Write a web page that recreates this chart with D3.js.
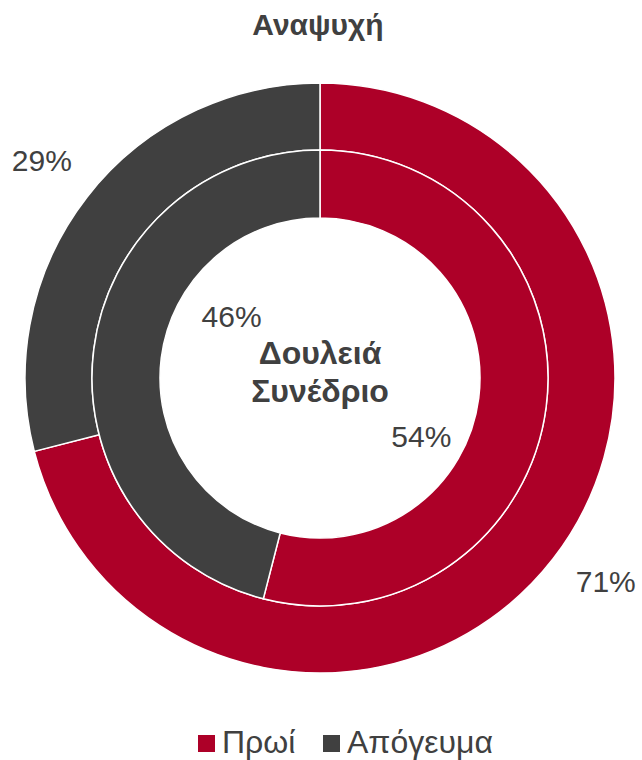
<!DOCTYPE html>
<html><head><meta charset="utf-8">
<script src="https://cdn.jsdelivr.net/npm/d3@7"></script>
<style>body{margin:0;background:#fff}svg{display:block}text{font-family:"Liberation Sans",Arial,sans-serif}</style>
</head><body>
<div id="chart"></div>
<script>
const series = ["Πρωί", "Απόγευμα"];
const outerValues = [71, 29];   // Αναψυχή
const innerValues = [54, 46];   // Δουλειά Συνέδριο
const title = "Αναψυχή";
const centerLines = ["Δουλειά", "Συνέδριο"];

const W = 642, H = 760;
const cx = 320, cy = 378;
const colors = d3.scaleOrdinal().domain(series).range(["#AD0028", "#404040"]);
const textColor = "#404040";

const svg = d3.select("#chart").append("svg").attr("width", W).attr("height", H);

svg.append("text").attr("x", 318).attr("y", 35).attr("text-anchor", "middle")
  .attr("font-size", 30).attr("font-weight", "bold").attr("fill", textColor).text(title);

const g = svg.append("g").attr("transform", `translate(${cx},${cy})`);
const pie = d3.pie().sort(null).value(d => d.v);

function ring(values, r0, r1, labelPos) {
  const data = pie(values.map((v, i) => ({v, s: series[i]})));
  const arc = d3.arc().innerRadius(r0).outerRadius(r1);
  g.append("g").selectAll("path").data(data).join("path")
    .attr("d", arc).attr("fill", d => colors(d.data.s))
    .attr("stroke", "#fff").attr("stroke-width", 1.5);
  g.append("g").selectAll("text").data(data).join("text")
    .attr("transform", (d, i) => {
      const a = labelPos[i].angle * Math.PI / 180, r = labelPos[i].r;
      return `translate(${r * Math.sin(a)},${-r * Math.cos(a)})`;
    })
    .attr("text-anchor", "middle").attr("dy", "0.35em")
    .attr("font-size", 30).attr("fill", textColor)
    .text(d => d.data.v + "%");
}
ring(outerValues, 228, 295, [{angle: 125.5, r: 351}, {angle: 308, r: 353}]);
ring(innerValues, 160, 228, [{angle: 120, r: 117}, {angle: 305, r: 108}]);

g.append("text").attr("text-anchor", "middle").attr("font-size", 32).attr("font-weight", "bold")
  .attr("fill", textColor)
  .selectAll("tspan").data(centerLines).join("tspan")
  .attr("x", 0).attr("y", (d, i) => -14 + i * 38).text(d => d);

const legend = svg.append("g");
const items = [{x: 198}, {x: 323}];
series.forEach((s, i) => {
  const it = legend.append("g").attr("transform", `translate(${items[i].x},735)`);
  it.append("rect").attr("width", 17).attr("height", 17).attr("fill", colors(s));
  it.append("text").attr("x", 24).attr("y", 18).attr("font-size", 32).attr("fill", textColor).text(s);
});
</script>
</body></html>
